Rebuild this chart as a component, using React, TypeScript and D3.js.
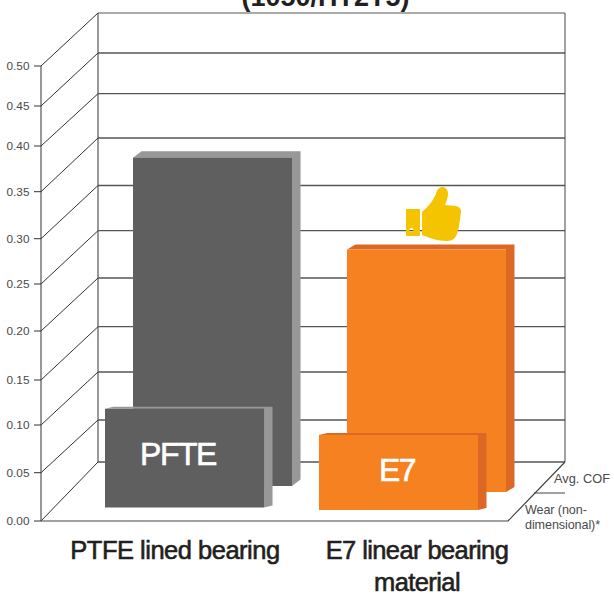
import React from "react";
import * as d3 from "d3";

const materials = ["PTFE lined bearing", "E7 linear bearing material"];
const wearValues = [0.103, 0.078];
const cofValues = [0.349, 0.256];
const barNames = ["PFTE", "E7"];
const tickValues = [0, 0.05, 0.1, 0.15, 0.2, 0.25, 0.3, 0.35, 0.4, 0.45, 0.5];
const faceColors = ["#5f5f5f", "#f68121"];
const sideColors = ["#989898", "#dd6825"];

const font = "'Liberation Sans', Arial, sans-serif";

// the source picture's axis is not evenly spaced, so both walls are piecewise
const yFront = d3
  .scaleLinear()
  .domain(tickValues)
  .range([521, 472.7, 425, 380, 331, 284, 238.7, 191.7, 146, 106, 66]);
const yBack = d3
  .scaleLinear()
  .domain(tickValues)
  .range([462, 420, 372, 326.7, 278, 230.7, 185.5, 138, 93.7, 53, 13]);

const x = d3
  .scaleBand<string>()
  .domain(materials)
  .range([105, 478])
  .paddingInner(0.2567)
  .paddingOuter(0);

const Bar = ({
  left,
  base,
  value,
  face,
  side,
  capRise,
}: {
  left: number;
  base: number;
  value: number;
  face: string;
  side: string;
  capRise: number;
}) => {
  const w = x.bandwidth();
  const top = base - (yFront(0) - yFront(value));
  const d = 8.5;
  return (
    <g>
      <polygon
        fill={side}
        points={`${left},${top} ${left + d},${top - capRise} ${left + w + d},${top - capRise} ${left + w + d},${base - capRise} ${left + w},${base} ${left + w},${top}`}
      />
      <rect x={left} y={top} width={w} height={base - top} fill={face} />
    </g>
  );
};

export default function App() {
  const [x0, x1] = [41, 98];
  const right = 565;
  return (
    <svg
      width={614}
      height={596}
      style={{ position: "absolute", left: 0, top: 0, background: "#fff" }}
      fontFamily={font}
    >
      <text
        x={325.5}
        y={6}
        textAnchor="middle"
        fontSize={27}
        fontWeight="bold"
        fill="#231f20"
      >
        (1050/HT2T5)
      </text>

      {/* back wall */}
      {tickValues.map((t) => (
        <line
          key={t}
          x1={x1}
          x2={right}
          y1={yBack(t)}
          y2={yBack(t)}
          stroke="#555"
          strokeWidth={t === 0.5 ? 1 : 1.3}
        />
      ))}
      <line x1={x1} x2={x1} y1={yBack(0.5)} y2={yBack(0)} stroke="#555" strokeWidth={1.2} />
      <line x1={right} x2={right} y1={yBack(0.5)} y2={yBack(0)} stroke="#444" strokeWidth={1} />

      {/* left wall and ticks */}
      {tickValues.map((t) => (
        <g key={t}>
          <line x1={x0} x2={x1} y1={yFront(t)} y2={yBack(t)} stroke="#333" strokeWidth={1} />
          <line x1={34} x2={x0} y1={yFront(t)} y2={yFront(t)} stroke="#333" strokeWidth={1} />
          <text
            x={29.5}
            y={yFront(t) + 4}
            textAnchor="end"
            fontSize={11.8}
            fill="#4a4a4a"
          >
            {t.toFixed(2)}
          </text>
        </g>
      ))}
      <line x1={x0} x2={x0} y1={yFront(0.5)} y2={yFront(0)} stroke="#333" strokeWidth={1} />

      {/* floor */}
      <path
        d={`M${x0},${yFront(0)}H508L${right},${yBack(0)}`}
        fill="none"
        stroke="#444"
        strokeWidth={1.2}
      />
      <line x1={534} x2={right} y1={493} y2={493} stroke="#444" strokeWidth={1} />

      {/* back row: avg. COF */}
      {materials.map((m, i) => (
        <Bar
          key={m}
          left={(x(m) ?? 0) + 28}
          base={486 + i * 6}
          value={cofValues[i]}
          face={faceColors[i]}
          side={sideColors[i]}
          capRise={i === 0 ? 6.5 : 5}
        />
      ))}

      {/* front row: wear */}
      {materials.map((m, i) => (
        <g key={m}>
          <Bar
            left={x(m) ?? 0}
            base={507.5 + i * 2.5}
            value={wearValues[i]}
            face={faceColors[i]}
            side={sideColors[i]}
            capRise={2}
          />
          <text
            x={(x(m) ?? 0) + (i === 0 ? 73 : 78)}
            y={i === 0 ? 465 : 481}
            textAnchor="middle"
            fontSize={32}
            letterSpacing={-1.5}
            fill="#fff"
            stroke="#fff"
            strokeWidth={0.6}
          >
            {barNames[i]}
          </text>
        </g>
      ))}

      {/* thumbs up */}
      <g fill="#f5c400">
        <path
          fillRule="evenodd"
          d="M407,209H419Q420,209 420,210V235Q420,236 419,236H407Q406,236 406,235V210Q406,209 407,209ZM411.5,228a2,2 0 1,0 0.01,0Z"
        />
        <path d="M422,212C428,207 433,201 436,194C437,189 440,187 442,187C446,187 448,190 448,194C448,198 446,202 445,205L456,206C460,207 461,209 461,212C460,220 459,226 458,231C456,238 453,241 447,241C438,241 430,238 422,235Z" />
      </g>

      {/* category labels */}
      <text
        x={175}
        y={559}
        textAnchor="middle"
        fontSize={25.5}
        letterSpacing={-0.5}
        fill="#231f20"
        stroke="#231f20"
        strokeWidth={0.6}
      >
        {materials[0]}
      </text>
      <text
        textAnchor="middle"
        fontSize={25.5}
        letterSpacing={-0.6}
        fill="#231f20"
        stroke="#231f20"
        strokeWidth={0.6}
      >
        <tspan x={417} y={559}>
          E7 linear bearing
        </tspan>
        <tspan x={417} y={591}>
          material
        </tspan>
      </text>

      {/* depth labels */}
      <text x={554} y={483} fontSize={12.8} fill="#4a4a4a">
        Avg. COF
      </text>
      <text fontSize={12.6} fill="#4a4a4a" letterSpacing={-0.1}>
        <tspan x={525} y={514}>
          Wear (non-
        </tspan>
        <tspan x={525} y={529}>
          dimensional)*
        </tspan>
      </text>
    </svg>
  );
}
